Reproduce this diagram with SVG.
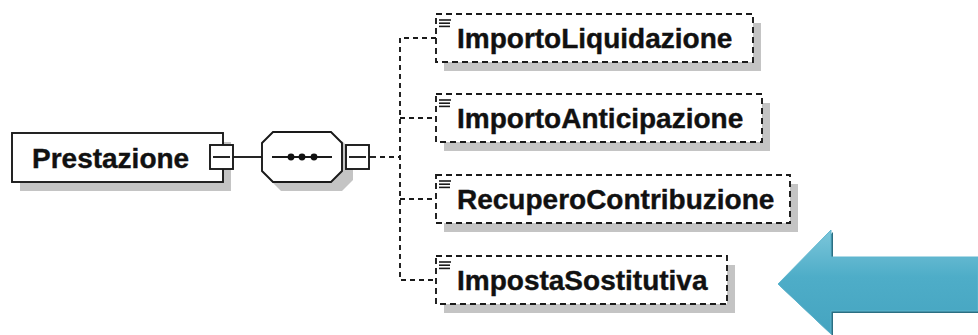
<svg xmlns="http://www.w3.org/2000/svg" width="978" height="335" viewBox="0 0 978 335">
<defs>
<style>
.txt{font-family:"Liberation Sans",Arial,sans-serif;font-weight:bold;font-size:28px;fill:#111;stroke:#111;stroke-width:0.4}
.shadow{fill:#c4c4c4}
.solid{fill:#fff;stroke:#1a1a1a;stroke-width:1.9}
.dbox{fill:#fff;stroke:#1a1a1a;stroke-width:1.9;stroke-dasharray:6 4}
.conn{fill:none;stroke:#1a1a1a;stroke-width:1.9}
.dconn{fill:none;stroke:#1a1a1a;stroke-width:1.9;stroke-dasharray:5 4}
.icon{stroke:#1a1a1a;stroke-width:1.6}
</style>
<linearGradient id="ag" x1="0" y1="0" x2="0" y2="1">
<stop offset="0" stop-color="#7cc6da"/>
<stop offset="0.45" stop-color="#4eadc8"/>
<stop offset="1" stop-color="#45a4c0"/>
</linearGradient>
<g id="ic"><line class="icon" x1="439" y1="0" x2="451" y2="0"/><line class="icon" x1="439" y1="3.2" x2="450" y2="3.2"/><line class="icon" x1="439" y1="6.4" x2="450" y2="6.4"/></g>
</defs>
<rect width="978" height="335" fill="#fff"/>

<g id="connectors">
<line class="conn" x1="233" y1="157" x2="262" y2="157"/>
<line class="conn" x1="369" y1="157" x2="376" y2="157"/>
<line class="dconn" x1="380" y1="157" x2="400" y2="157"/>
<path class="dconn" d="M436 38 H400 V280 H436"/>
<line class="dconn" x1="400" y1="118" x2="436" y2="118"/>
<line class="dconn" x1="400" y1="199" x2="436" y2="199"/>
</g>

<g id="Prestazione">
<rect class="shadow" x="20" y="142" width="211" height="49"/>
<rect class="solid" x="12" y="133" width="211" height="49"/>
<text class="txt" x="32" y="168">Prestazione</text>
<rect class="solid" x="210" y="145" width="23" height="24"/>
<line class="conn" x1="213" y1="157" x2="230" y2="157"/>
</g>

<g id="sequence">
<path class="shadow" d="M281 141 H342 L353 152 V180 L342 191 H281 L270 180 V152 Z"/>
<path class="solid" d="M273 132 H331 L342 143 V171 L331 182 H273 L262 171 V143 Z"/>
<line class="conn" x1="272" y1="157" x2="332" y2="157"/>
<circle cx="291" cy="157" r="3.4" fill="#111"/>
<circle cx="302" cy="157" r="3.4" fill="#111"/>
<circle cx="314" cy="157" r="3.4" fill="#111"/>
<rect class="solid" x="346" y="145" width="23" height="24"/>
<line class="conn" x1="349" y1="157" x2="366" y2="157"/>
</g>

<g id="ImportoLiquidazione">
<rect class="shadow" x="444" y="23" width="317" height="48"/>
<rect class="dbox" x="436" y="14" width="317" height="48"/>
<use href="#ic" y="20"/>
<text class="txt" x="457" y="48">ImportoLiquidazione</text>
</g>

<g id="ImportoAnticipazione">
<rect class="shadow" x="444" y="103" width="326" height="48"/>
<rect class="dbox" x="436" y="94" width="326" height="48"/>
<use href="#ic" y="100"/>
<text class="txt" x="457" y="128">ImportoAnticipazione</text>
</g>

<g id="RecuperoContribuzione">
<rect class="shadow" x="444" y="184" width="354" height="48"/>
<rect class="dbox" x="436" y="175" width="354" height="48"/>
<use href="#ic" y="181"/>
<text class="txt" x="457" y="209">RecuperoContribuzione</text>
</g>

<g id="ImpostaSostitutiva">
<rect class="shadow" x="444" y="265" width="291" height="48"/>
<rect class="dbox" x="436" y="256" width="291" height="48"/>
<use href="#ic" y="262"/>
<text class="txt" x="457" y="290">ImpostaSostitutiva</text>
</g>

<g id="arrow">
<path d="M780 286 L833 232 V259 H980 V313 H833 V336 Z" fill="#2b6f82"/>
<path d="M778 284 L831 230 V257 H978 V311 H831 V334 Z" fill="url(#ag)" stroke="#5fb6cf" stroke-width="1"/>
</g>
</svg>
